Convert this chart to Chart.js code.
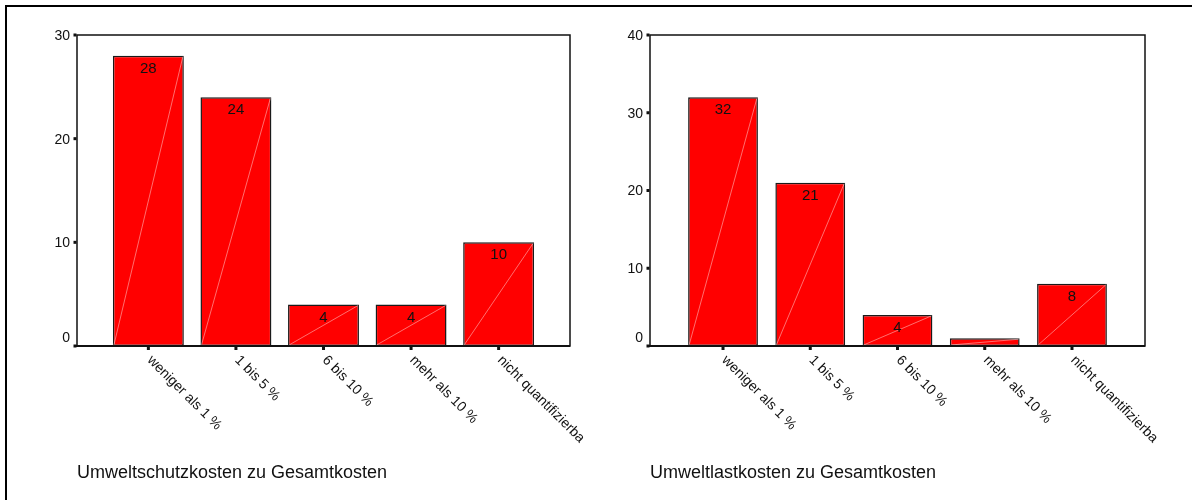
<!DOCTYPE html>
<html>
<head>
<meta charset="utf-8">
<script src="https://cdn.jsdelivr.net/npm/chart.js@4/dist/chart.umd.min.js"></script>
<style>
  html, body { margin: 0; padding: 0; background: #fff; }
  #page { position: relative; width: 1192px; height: 500px; overflow: hidden; background: #fff; }
  #frame { position: absolute; left: 5px; top: 5px; width: 1200px; height: 510px;
           border-top: 2.5px solid #000; border-left: 2.5px solid #000; }
  .box { position: absolute; top: 0; width: 596px; height: 500px; }
</style>
</head>
<body>
<div id="page">
  <div id="frame"></div>
  <div class="box" style="left:0"><canvas id="chartSchutz"></canvas></div>
  <div class="box" style="left:596px"><canvas id="chartLast"></canvas></div>
</div>
<script>
// Kategorien (Anteil an den Gesamtkosten)
const categories = ['weniger als 1 %', '1 bis 5 %', '6 bis 10 %', 'mehr als 10 %', 'nicht quantifizierba'];

// Häufigkeiten
const schutzValues = [28, 24, 4, 4, 10];
const lastValues = [32, 21, 4, 1, 8];

// Achsenbeschriftungen
const schutzTicks = [0, 10, 20, 30];
const lastTicks = [0, 10, 20, 30, 40];

const schutzTitle = 'Umweltschutzkosten zu Gesamtkosten';
const lastTitle = 'Umweltlastkosten zu Gesamtkosten';

const FONT = '"Liberation Sans", Arial, Helvetica, sans-serif';

// Draws the framed plot box, tick marks, labels, bar values and axis title
const decorPlugin = {
  id: 'decor',
  afterDatasetsDraw(chart) {
    const ctx = chart.ctx;
    const area = chart.chartArea;
    const xs = chart.scales.x;
    const ys = chart.scales.y;
    const cfg = chart.options.plugins.decor;
    const meta = chart.getDatasetMeta(0);

    ctx.save();
    // faint diagonal inside each bar
    meta.data.forEach((bar) => {
      const p = bar.getProps(['x', 'y', 'base', 'width'], true);
      ctx.beginPath();
      ctx.moveTo(p.x - p.width / 2 + 1, p.base - 1);
      ctx.lineTo(p.x + p.width / 2 - 1, p.y + 1);
      ctx.strokeStyle = 'rgba(255,210,210,0.75)';
      ctx.lineWidth = 0.7;
      ctx.stroke();
    });

    // value labels near the top of the bars
    ctx.fillStyle = '#111';
    ctx.font = '15px ' + FONT;
    ctx.textAlign = 'center';
    ctx.textBaseline = 'middle';
    meta.data.forEach((bar, i) => {
      const p = bar.getProps(['x', 'y', 'base'], true);
      if (p.base - p.y >= 14) {
        ctx.fillText(String(cfg.values[i]), p.x, p.y + 13);
      }
    });

    // plot frame
    ctx.strokeStyle = '#111';
    ctx.lineWidth = 1.5;
    ctx.strokeRect(area.left, area.top, area.right - area.left, area.bottom - area.top);
    ctx.beginPath();
    ctx.moveTo(area.left - 2, area.bottom);
    ctx.lineTo(area.right, area.bottom);
    ctx.lineWidth = 2;
    ctx.stroke();

    // y ticks and labels
    ctx.fillStyle = '#111';
    ctx.font = '14px ' + FONT;
    ctx.textAlign = 'right';
    ctx.textBaseline = 'middle';
    cfg.yTicks.forEach((v) => {
      const y = ys.getPixelForValue(v);
      ctx.fillRect(area.left - 3.5, y - 1.5, 3, 3);
      ctx.fillText(String(v), area.left - 7, v === 0 ? y - 8 : y + 1);
    });

    // x ticks and rotated category labels
    ctx.font = '14px ' + FONT;
    ctx.textAlign = 'left';
    ctx.textBaseline = 'middle';
    cfg.labels.forEach((lab, i) => {
      const x = xs.getPixelForValue(i);
      ctx.fillRect(x - 1.5, area.bottom + 1, 3, 3);
      ctx.save();
      ctx.translate(x + 1, area.bottom + 12);
      ctx.rotate(Math.PI / 4);
      ctx.fillText(lab, 0, 0);
      ctx.restore();
    });

    // axis title
    ctx.font = '18px ' + FONT;
    ctx.textAlign = 'left';
    ctx.textBaseline = 'middle';
    ctx.fillText(cfg.title, area.left, 473);
    ctx.restore();
  }
};

function makeChart(id, values, yTicks, title, pad, xPad, barPct) {
  return new Chart(document.getElementById(id), {
    type: 'bar',
    data: {
      datasets: [{
        data: values.map((v, i) => ({ x: i, y: v })),
        backgroundColor: '#ff0000',
        borderColor: '#1a1a1a',
        borderWidth: 1.5,
        borderSkipped: false,
        barPercentage: barPct,
        categoryPercentage: 1
      }]
    },
    options: {
      responsive: true,
      maintainAspectRatio: false,
      animation: false,
      layout: { padding: pad },
      scales: {
        x: {
          type: 'linear', display: false, offset: false,
          min: -xPad, max: categories.length - 1 + xPad,
          ticks: { stepSize: 1, includeBounds: false }
        },
        y: {
          type: 'linear', display: false,
          min: 0, max: yTicks[yTicks.length - 1],
          ticks: { stepSize: 10 }
        }
      },
      plugins: {
        legend: { display: false },
        tooltip: { enabled: false },
        decor: { values: values, yTicks: yTicks, labels: categories, title: title }
      }
    },
    plugins: [decorPlugin]
  });
}

makeChart('chartSchutz', schutzValues, schutzTicks, schutzTitle,
  { left: 77, right: 26, top: 35, bottom: 154 }, 0.815, 0.81);
makeChart('chartLast', lastValues, lastTicks, lastTitle,
  { left: 54, right: 47, top: 35, bottom: 154 }, 0.837, 0.80);
</script>
</body>
</html>
